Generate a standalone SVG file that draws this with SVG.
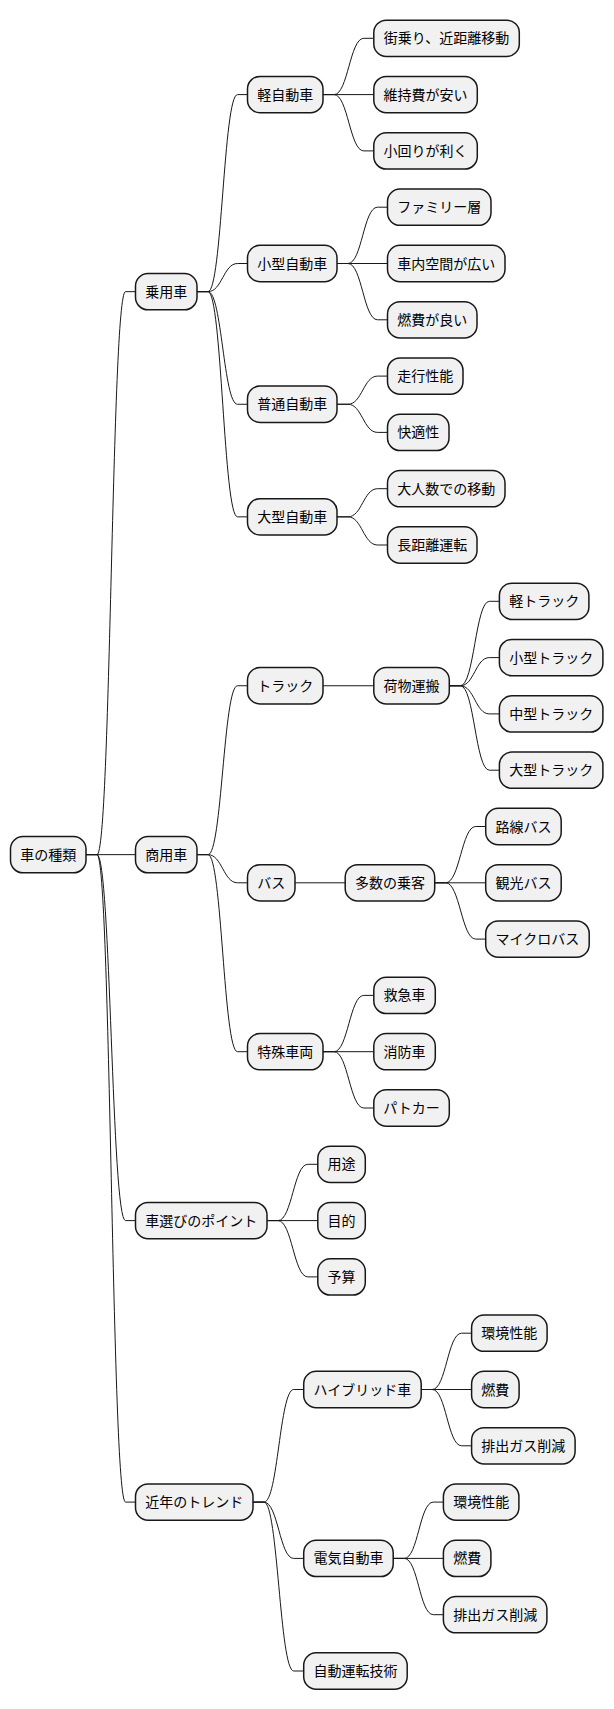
<svg xmlns="http://www.w3.org/2000/svg" width="614" height="1709" viewBox="0 0 614 1709">
<style>
.n rect{fill:#F1F1F1;stroke:#181818;stroke-width:1.5}
.n text{font-family:"Noto Sans CJK JP","Noto Sans",sans-serif;font-size:14px;fill:#000;text-anchor:middle}
#edges path{fill:none;stroke:#181818;stroke-width:1}
</style>
<rect width="614" height="1709" fill="#FFFFFF"/>
<g id="edges">
<path d="M86 854.65 H97 C111 854.65 111.5 291.65 125.5 291.65 H135.5"/>
<path d="M86 854.65 H135.5"/>
<path d="M86 854.65 H97 C111 854.65 111.5 1220.6 125.5 1220.6 H135.5"/>
<path d="M86 854.65 H97 C111 854.65 111.5 1502.1 125.5 1502.1 H135.5"/>
<path d="M197 291.65 H208 C222 291.65 223.5 94.6 237.5 94.6 H247.5"/>
<path d="M197 291.65 H208 C222 291.65 223.5 263.5 237.5 263.5 H247.5"/>
<path d="M197 291.65 H208 C222 291.65 223.5 404.25 237.5 404.25 H247.5"/>
<path d="M197 291.65 H208 C222 291.65 223.5 516.85 237.5 516.85 H247.5"/>
<path d="M197 854.65 H208 C222 854.65 223.5 685.75 237.5 685.75 H247.5"/>
<path d="M197 854.65 H208 C222 854.65 223.5 882.8 237.5 882.8 H247.5"/>
<path d="M197 854.65 H208 C222 854.65 223.5 1051.7 237.5 1051.7 H247.5"/>
<path d="M267 1220.6 H278 C292 1220.6 293.8 1164.3 307.8 1164.3 H317.8"/>
<path d="M267 1220.6 H317.8"/>
<path d="M267 1220.6 H278 C292 1220.6 293.8 1276.9 307.8 1276.9 H317.8"/>
<path d="M253 1502.1 H264 C278 1502.1 279.7 1389.5 293.7 1389.5 H303.7"/>
<path d="M253 1502.1 H264 C278 1502.1 279.7 1558.4 293.7 1558.4 H303.7"/>
<path d="M253 1502.1 H264 C278 1502.1 279.7 1671 293.7 1671 H303.7"/>
<path d="M323 94.6 H334 C348 94.6 349.8 38.3 363.8 38.3 H373.8"/>
<path d="M323 94.6 H373.8"/>
<path d="M323 94.6 H334 C348 94.6 349.8 150.9 363.8 150.9 H373.8"/>
<path d="M337 263.5 H348 C362 263.5 363.5 207.2 377.5 207.2 H387.5"/>
<path d="M337 263.5 H387.5"/>
<path d="M337 263.5 H348 C362 263.5 363.5 319.8 377.5 319.8 H387.5"/>
<path d="M337 404.25 H348 C362 404.25 363.5 376.1 377.5 376.1 H387.5"/>
<path d="M337 404.25 H348 C362 404.25 363.5 432.4 377.5 432.4 H387.5"/>
<path d="M337 516.85 H348 C362 516.85 363.5 488.7 377.5 488.7 H387.5"/>
<path d="M337 516.85 H348 C362 516.85 363.5 545 377.5 545 H387.5"/>
<path d="M323 685.75 H373.8"/>
<path d="M449.3 685.75 H460.3 C474.3 685.75 475.4 601.3 489.4 601.3 H499.4"/>
<path d="M449.3 685.75 H460.3 C474.3 685.75 475.4 657.6 489.4 657.6 H499.4"/>
<path d="M449.3 685.75 H460.3 C474.3 685.75 475.4 713.9 489.4 713.9 H499.4"/>
<path d="M449.3 685.75 H460.3 C474.3 685.75 475.4 770.2 489.4 770.2 H499.4"/>
<path d="M295 882.8 H345.2"/>
<path d="M434.7 882.8 H445.7 C459.7 882.8 461.7 826.5 475.7 826.5 H485.7"/>
<path d="M434.7 882.8 H485.7"/>
<path d="M434.7 882.8 H445.7 C459.7 882.8 461.7 939.1 475.7 939.1 H485.7"/>
<path d="M323 1051.7 H334 C348 1051.7 349.8 995.4 363.8 995.4 H373.8"/>
<path d="M323 1051.7 H373.8"/>
<path d="M323 1051.7 H334 C348 1051.7 349.8 1108 363.8 1108 H373.8"/>
<path d="M421.2 1389.5 H432.2 C446.2 1389.5 447.6 1333.2 461.6 1333.2 H471.6"/>
<path d="M421.2 1389.5 H471.6"/>
<path d="M421.2 1389.5 H432.2 C446.2 1389.5 447.6 1445.8 461.6 1445.8 H471.6"/>
<path d="M393.2 1558.4 H404.2 C418.2 1558.4 419.4 1502.1 433.4 1502.1 H443.4"/>
<path d="M393.2 1558.4 H443.4"/>
<path d="M393.2 1558.4 H404.2 C418.2 1558.4 419.4 1614.7 433.4 1614.7 H443.4"/>
</g>
<g id="n0" class="n"><rect x="10.5" y="836.5" width="75.5" height="36.3" rx="12.5"/><text x="48.25" y="859.65">車の種類</text></g>
<g id="n1" class="n"><rect x="135.5" y="273.5" width="61.5" height="36.3" rx="12.5"/><text x="166.25" y="296.65">乗用車</text></g>
<g id="n2" class="n"><rect x="135.5" y="836.5" width="61.5" height="36.3" rx="12.5"/><text x="166.25" y="859.65">商用車</text></g>
<g id="n3" class="n"><rect x="135.5" y="1202.45" width="131.5" height="36.3" rx="12.5"/><text x="201.25" y="1225.6">車選びのポイント</text></g>
<g id="n4" class="n"><rect x="135.5" y="1483.95" width="117.5" height="36.3" rx="12.5"/><text x="194.25" y="1507.1">近年のトレンド</text></g>
<g id="n5" class="n"><rect x="247.5" y="76.45" width="75.5" height="36.3" rx="12.5"/><text x="285.25" y="99.6">軽自動車</text></g>
<g id="n6" class="n"><rect x="247.5" y="245.35" width="89.5" height="36.3" rx="12.5"/><text x="292.25" y="268.5">小型自動車</text></g>
<g id="n7" class="n"><rect x="247.5" y="386.1" width="89.5" height="36.3" rx="12.5"/><text x="292.25" y="409.25">普通自動車</text></g>
<g id="n8" class="n"><rect x="247.5" y="498.7" width="89.5" height="36.3" rx="12.5"/><text x="292.25" y="521.85">大型自動車</text></g>
<g id="n9" class="n"><rect x="247.5" y="667.6" width="75.5" height="36.3" rx="12.5"/><text x="285.25" y="690.75">トラック</text></g>
<g id="n10" class="n"><rect x="247.5" y="864.65" width="47.5" height="36.3" rx="12.5"/><text x="271.25" y="887.8">バス</text></g>
<g id="n11" class="n"><rect x="247.5" y="1033.55" width="75.5" height="36.3" rx="12.5"/><text x="285.25" y="1056.7">特殊車両</text></g>
<g id="n12" class="n"><rect x="317.8" y="1146.15" width="47.5" height="36.3" rx="12.5"/><text x="341.55" y="1169.3">用途</text></g>
<g id="n13" class="n"><rect x="317.8" y="1202.45" width="47.5" height="36.3" rx="12.5"/><text x="341.55" y="1225.6">目的</text></g>
<g id="n14" class="n"><rect x="317.8" y="1258.75" width="47.5" height="36.3" rx="12.5"/><text x="341.55" y="1281.9">予算</text></g>
<g id="n15" class="n"><rect x="303.7" y="1371.35" width="117.5" height="36.3" rx="12.5"/><text x="362.45" y="1394.5">ハイブリッド車</text></g>
<g id="n16" class="n"><rect x="303.7" y="1540.25" width="89.5" height="36.3" rx="12.5"/><text x="348.45" y="1563.4">電気自動車</text></g>
<g id="n17" class="n"><rect x="303.7" y="1652.85" width="103.5" height="36.3" rx="12.5"/><text x="355.45" y="1676">自動運転技術</text></g>
<g id="n18" class="n"><rect x="373.8" y="20.15" width="145.5" height="36.3" rx="12.5"/><text x="446.55" y="43.3">街乗り、近距離移動</text></g>
<g id="n19" class="n"><rect x="373.8" y="76.45" width="103.5" height="36.3" rx="12.5"/><text x="425.55" y="99.6">維持費が安い</text></g>
<g id="n20" class="n"><rect x="373.8" y="132.75" width="103.5" height="36.3" rx="12.5"/><text x="425.55" y="155.9">小回りが利く</text></g>
<g id="n21" class="n"><rect x="387.5" y="189.05" width="103.5" height="36.3" rx="12.5"/><text x="439.25" y="212.2">ファミリー層</text></g>
<g id="n22" class="n"><rect x="387.5" y="245.35" width="117.5" height="36.3" rx="12.5"/><text x="446.25" y="268.5">車内空間が広い</text></g>
<g id="n23" class="n"><rect x="387.5" y="301.65" width="89.5" height="36.3" rx="12.5"/><text x="432.25" y="324.8">燃費が良い</text></g>
<g id="n24" class="n"><rect x="387.5" y="357.95" width="75.5" height="36.3" rx="12.5"/><text x="425.25" y="381.1">走行性能</text></g>
<g id="n25" class="n"><rect x="387.5" y="414.25" width="61.5" height="36.3" rx="12.5"/><text x="418.25" y="437.4">快適性</text></g>
<g id="n26" class="n"><rect x="387.5" y="470.55" width="117.5" height="36.3" rx="12.5"/><text x="446.25" y="493.7">大人数での移動</text></g>
<g id="n27" class="n"><rect x="387.5" y="526.85" width="89.5" height="36.3" rx="12.5"/><text x="432.25" y="550">長距離運転</text></g>
<g id="n28" class="n"><rect x="373.8" y="667.6" width="75.5" height="36.3" rx="12.5"/><text x="411.55" y="690.75">荷物運搬</text></g>
<g id="n29" class="n"><rect x="499.4" y="583.15" width="89.5" height="36.3" rx="12.5"/><text x="544.15" y="606.3">軽トラック</text></g>
<g id="n30" class="n"><rect x="499.4" y="639.45" width="103.5" height="36.3" rx="12.5"/><text x="551.15" y="662.6">小型トラック</text></g>
<g id="n31" class="n"><rect x="499.4" y="695.75" width="103.5" height="36.3" rx="12.5"/><text x="551.15" y="718.9">中型トラック</text></g>
<g id="n32" class="n"><rect x="499.4" y="752.05" width="103.5" height="36.3" rx="12.5"/><text x="551.15" y="775.2">大型トラック</text></g>
<g id="n33" class="n"><rect x="345.2" y="864.65" width="89.5" height="36.3" rx="12.5"/><text x="389.95" y="887.8">多数の乗客</text></g>
<g id="n34" class="n"><rect x="485.7" y="808.35" width="75.5" height="36.3" rx="12.5"/><text x="523.45" y="831.5">路線バス</text></g>
<g id="n35" class="n"><rect x="485.7" y="864.65" width="75.5" height="36.3" rx="12.5"/><text x="523.45" y="887.8">観光バス</text></g>
<g id="n36" class="n"><rect x="485.7" y="920.95" width="103.5" height="36.3" rx="12.5"/><text x="537.45" y="944.1">マイクロバス</text></g>
<g id="n37" class="n"><rect x="373.8" y="977.25" width="61.5" height="36.3" rx="12.5"/><text x="404.55" y="1000.4">救急車</text></g>
<g id="n38" class="n"><rect x="373.8" y="1033.55" width="61.5" height="36.3" rx="12.5"/><text x="404.55" y="1056.7">消防車</text></g>
<g id="n39" class="n"><rect x="373.8" y="1089.85" width="75.5" height="36.3" rx="12.5"/><text x="411.55" y="1113">パトカー</text></g>
<g id="n40" class="n"><rect x="471.6" y="1315.05" width="75.5" height="36.3" rx="12.5"/><text x="509.35" y="1338.2">環境性能</text></g>
<g id="n41" class="n"><rect x="471.6" y="1371.35" width="47.5" height="36.3" rx="12.5"/><text x="495.35" y="1394.5">燃費</text></g>
<g id="n42" class="n"><rect x="471.6" y="1427.65" width="103.5" height="36.3" rx="12.5"/><text x="523.35" y="1450.8">排出ガス削減</text></g>
<g id="n43" class="n"><rect x="443.4" y="1483.95" width="75.5" height="36.3" rx="12.5"/><text x="481.15" y="1507.1">環境性能</text></g>
<g id="n44" class="n"><rect x="443.4" y="1540.25" width="47.5" height="36.3" rx="12.5"/><text x="467.15" y="1563.4">燃費</text></g>
<g id="n45" class="n"><rect x="443.4" y="1596.55" width="103.5" height="36.3" rx="12.5"/><text x="495.15" y="1619.7">排出ガス削減</text></g>
</svg>
